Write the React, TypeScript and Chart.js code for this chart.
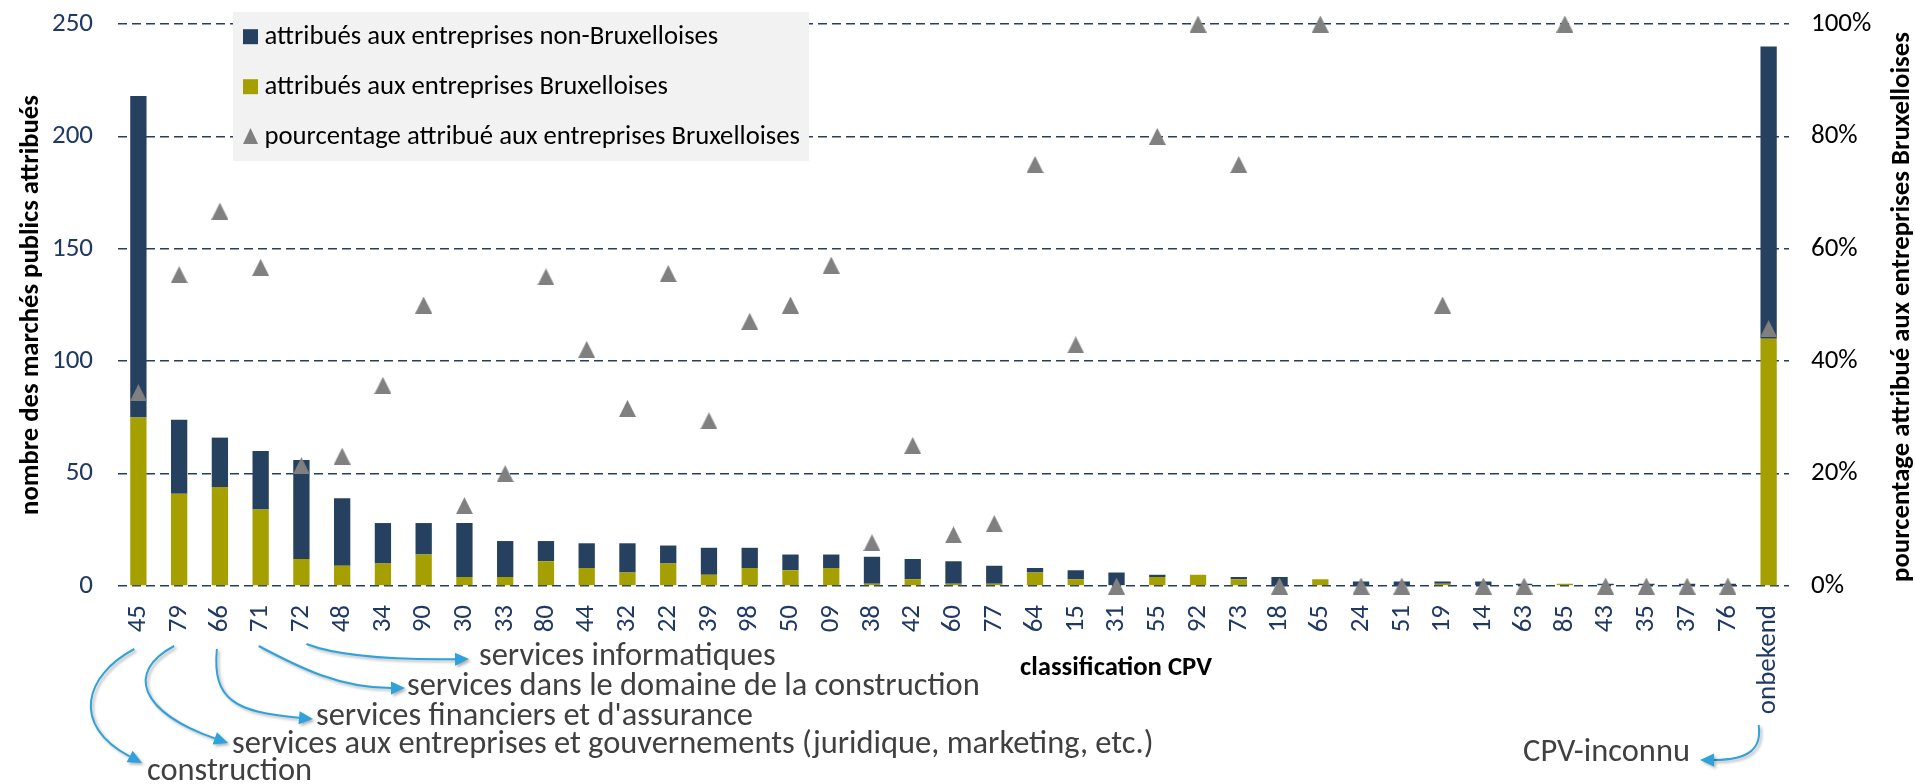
import React, { useEffect, useRef } from 'react';
import { Chart, registerables } from 'chart.js';

Chart.register(...registerables);

// ---------- DATA ----------
const categories = ['45', '79', '66', '71', '72', '48', '34', '90', '30', '33', '80', '44', '32', '22', '39', '98', '50', '09', '38', '42', '60', '77', '64', '15', '31', '55', '92', '73', '18', '65', '24', '51', '19', '14', '63', '85', '43', '35', '37', '76', 'onbekend'];

const bruxelles = [75, 41, 44, 34, 12, 9, 10, 14, 4, 4, 11, 8, 6, 10, 5, 8, 7, 8, 1, 3, 1, 1, 6, 3, 0, 4, 5, 3, 0, 3, 0, 0, 1, 0, 0, 1, 0, 0, 0, 0, 110];

const nonBruxelles = [143, 33, 22, 26, 44, 30, 18, 14, 24, 16, 9, 11, 13, 8, 12, 9, 7, 6, 12, 9, 10, 8, 2, 4, 6, 1, 0, 1, 4, 0, 2, 2, 1, 2, 1, 0, 1, 1, 1, 1, 130];

const pourcentageBruxelles = [34.4, 55.4, 66.7, 56.7, 21.4, 23.1, 35.7, 50, 14.3, 20, 55, 42.1, 31.6, 55.6, 29.4, 47.1, 50, 57.1, 7.7, 25, 9.1, 11.1, 75, 42.9, 0, 80, 100, 75, 0, 100, 0, 0, 50, 0, 0, 100, 0, 0, 0, 0, 45.8];

const seriesLabels = [
  'attribués aux entreprises non-Bruxelloises',
  'attribués aux entreprises Bruxelloises',
  'pourcentage attribué aux entreprises Bruxelloises',
];

const leftAxisTitle = 'nombre des marchés publics attribués';
const rightAxisTitle = 'pourcentage attribué aux entreprises Bruxelloises';
const xAxisTitle = 'classification CPV';

const annotationCategories = ['45', '79', '66', '71', '72', 'onbekend'];
const annotationTexts = [
  'construction',
  'services aux entreprises et gouvernements (juridique, marketing, etc.)',
  'services financiers et d\'assurance',
  'services dans le domaine de la construction',
  'services informatiques',
  'CPV-inconnu',
];

// ---------- STYLE / LAYOUT ----------
const FONT = 'Carlito, Lato, sans-serif';
const NAVY = '#26405F';
const OLIVE = '#A5A000';
const TRI = '#808080';
const GRID = '#243F60';
const TICK_NAVY = '#1F3864';
const ARROW = '#2FA2DC';
const NOTE = '#404040';

const arrowLayout = [
  { dx: -4, y0: 649, c1: [85, 675], c2: [70, 725], end: [142, 763], tx: 147, ty: 772, align: 'left' },
  { dx: -5, y0: 646, c1: [125, 672], c2: [140, 712], end: [228, 743], tx: 232, ty: 745, align: 'left' },
  { dx: -3, y0: 649, c1: [212, 700], c2: [235, 712], end: [313, 719], tx: 316, ty: 717, align: 'left' },
  { dx: -2, y0: 646, c1: [300, 668], c2: [340, 688], end: [405, 688], tx: 407, ty: 687, align: 'left' },
  { dx: 5, y0: 644, c1: [335, 655], c2: [380, 660], end: [469, 659], tx: 479, ty: 657, align: 'left' },
  { dx: -10, y0: 725, c1: [1762, 748], c2: [1750, 760], end: [1700, 760], tx: 1690, ty: 753, align: 'right' },
];

function makeTriangle(w: number, h: number, color: string) {
  const c = document.createElement('canvas');
  c.width = w;
  c.height = h;
  const g = c.getContext('2d')!;
  g.fillStyle = color;
  g.beginPath();
  g.moveTo(w / 2, 0);
  g.lineTo(w, h);
  g.lineTo(0, h);
  g.closePath();
  g.fill();
  return c;
}

function fitSize(ctx: CanvasRenderingContext2D, text: string, weight: string, target: number) {
  ctx.font = `${weight} 100px ${FONT}`;
  const w = ctx.measureText(text).width;
  return (100 * target) / w;
}

const decorPlugin = {
  id: 'decor',
  afterDraw(chart: any) {
    const ctx: CanvasRenderingContext2D = chart.ctx;
    const xScale = chart.scales.x;

    // ----- legend -----
    ctx.save();
    ctx.fillStyle = '#F2F2F2';
    ctx.fillRect(233, 12, 576, 149);
    const lsize = fitSize(ctx, seriesLabels[0], 'normal', 454);
    ctx.font = `normal ${lsize}px ${FONT}`;
    ctx.textBaseline = 'middle';
    ctx.textAlign = 'left';
    const rows = [36.7, 86.7, 136];
    ctx.fillStyle = NAVY;
    ctx.fillRect(243, rows[0] - 7.5, 15, 15);
    ctx.fillStyle = OLIVE;
    ctx.fillRect(243, rows[1] - 7.5, 15, 15);
    ctx.fillStyle = TRI;
    ctx.beginPath();
    ctx.moveTo(250.5, rows[2] - 8);
    ctx.lineTo(258, rows[2] + 8);
    ctx.lineTo(243, rows[2] + 8);
    ctx.closePath();
    ctx.fill();
    ctx.fillStyle = '#000';
    seriesLabels.forEach((t, i) => ctx.fillText(t, 264.5, rows[i] + 1));
    ctx.restore();

    // ----- axis titles -----
    ctx.save();
    ctx.fillStyle = '#000';
    ctx.textAlign = 'center';
    ctx.textBaseline = 'middle';
    const ls = fitSize(ctx, leftAxisTitle, 'bold', 420);
    ctx.font = `bold ${ls}px ${FONT}`;
    ctx.save();
    ctx.translate(31, 305);
    ctx.rotate(-Math.PI / 2);
    ctx.fillText(leftAxisTitle, 0, 0);
    ctx.restore();
    const rs = fitSize(ctx, rightAxisTitle, 'bold', 550);
    ctx.font = `bold ${rs}px ${FONT}`;
    ctx.save();
    ctx.translate(1902, 307);
    ctx.rotate(-Math.PI / 2);
    ctx.fillText(rightAxisTitle, 0, 0);
    ctx.restore();
    const xs = fitSize(ctx, xAxisTitle, 'bold', 192);
    ctx.font = `bold ${xs}px ${FONT}`;
    ctx.fillText(xAxisTitle, 1116, 668);
    ctx.restore();

    // ----- annotations -----
    ctx.save();
    const ns = fitSize(ctx, annotationTexts[1], 'normal', 922);
    annotationCategories.forEach((cat, i) => {
      const L = arrowLayout[i];
      const px = xScale.getPixelForValue(categories.indexOf(cat));
      const x0 = px + L.dx;
      const [ex, ey] = L.end;
      const ang = Math.atan2(ey - L.c2[1], ex - L.c2[0]);
      const hl = 14;
      const hw = 6.5;
      const bx = ex - hl * Math.cos(ang);
      const by = ey - hl * Math.sin(ang);
      ctx.save();
      ctx.shadowColor = 'rgba(0,0,0,0.3)';
      ctx.shadowBlur = 3;
      ctx.shadowOffsetX = 2;
      ctx.shadowOffsetY = 2;
      ctx.strokeStyle = ARROW;
      ctx.lineWidth = 2;
      ctx.beginPath();
      ctx.moveTo(x0, L.y0);
      ctx.bezierCurveTo(L.c1[0], L.c1[1], L.c2[0], L.c2[1], bx, by);
      ctx.stroke();
      ctx.fillStyle = ARROW;
      ctx.beginPath();
      ctx.moveTo(ex, ey);
      ctx.lineTo(bx - hw * Math.sin(ang), by + hw * Math.cos(ang));
      ctx.lineTo(bx + hw * Math.sin(ang), by - hw * Math.cos(ang));
      ctx.closePath();
      ctx.fill();
      ctx.restore();

      ctx.fillStyle = NOTE;
      ctx.font = `normal ${ns}px ${FONT}`;
      ctx.textBaseline = 'middle';
      ctx.textAlign = L.align as CanvasTextAlign;
      ctx.fillText(annotationTexts[i], L.tx, L.ty);
    });
    ctx.restore();
  },
};

function zeroPad(s: any) {
  s.paddingTop = 0;
  s.paddingBottom = 0;
  s.paddingLeft = 0;
  s.paddingRight = 0;
}

export default function App() {
  const ref = useRef<HTMLCanvasElement>(null);
  useEffect(() => {
    document.body.style.margin = '0';
    const tri = makeTriangle(17, 17, TRI);
    const tickFont = { family: FONT, size: 27 };
    const chart = new Chart(ref.current!, {
      type: 'bar',
      data: {
        labels: categories,
        datasets: [
          {
            type: 'line',
            label: seriesLabels[2],
            data: pourcentageBruxelles,
            yAxisID: 'y1',
            showLine: false,
            pointStyle: tri as any,
            pointRadius: 9,
            backgroundColor: TRI,
            borderColor: TRI,
            clip: false,
            order: 0,
          } as any,
          {
            type: 'bar',
            label: seriesLabels[1],
            data: bruxelles,
            yAxisID: 'y',
            backgroundColor: OLIVE,
            barPercentage: 0.4,
            categoryPercentage: 1,
            order: 1,
          },
          {
            type: 'bar',
            label: seriesLabels[0],
            data: nonBruxelles,
            yAxisID: 'y',
            backgroundColor: NAVY,
            barPercentage: 0.4,
            categoryPercentage: 1,
            order: 2,
          },
        ],
      },
      options: {
        responsive: false,
        animation: false,
        layout: { autoPadding: false, padding: { top: 24, left: 0, right: 0, bottom: 0 } },
        plugins: { legend: { display: false }, tooltip: { enabled: false } },
        scales: {
          x: {
            stacked: true,
            grid: { display: false, drawTicks: false },
            border: { display: false },
            ticks: {
              autoSkip: false,
              minRotation: 90,
              maxRotation: 90,
              padding: 19,
              color: TICK_NAVY,
              font: tickFont,
            },
            afterFit: (s: any) => {
              s.height = 198;
              zeroPad(s);
            },
          },
          y: {
            stacked: true,
            position: 'left',
            min: 0,
            max: 250,
            ticks: { stepSize: 50, padding: 25, color: TICK_NAVY, font: tickFont },
            grid: { color: GRID, lineWidth: 1.6, drawTicks: false },
            border: { display: false, dash: [9, 5] },
            afterFit: (s: any) => {
              s.width = 118;
              zeroPad(s);
            },
          },
          y1: {
            position: 'right',
            min: 0,
            max: 100,
            ticks: {
              stepSize: 20,
              padding: 22,
              color: '#000',
              font: tickFont,
              callback: (v: any) => `${v}%`,
            },
            grid: { display: false, drawTicks: false },
            border: { display: false },
            afterFit: (s: any) => {
              s.width = 126;
              zeroPad(s);
            },
          },
        },
      } as any,
      plugins: [decorPlugin],
    });
    return () => chart.destroy();
  }, []);
  return (
    <div style={{ width: 1915, height: 784, position: 'relative' }}>
      <canvas ref={ref} width={1915} height={784} style={{ display: 'block' }} />
    </div>
  );
}
